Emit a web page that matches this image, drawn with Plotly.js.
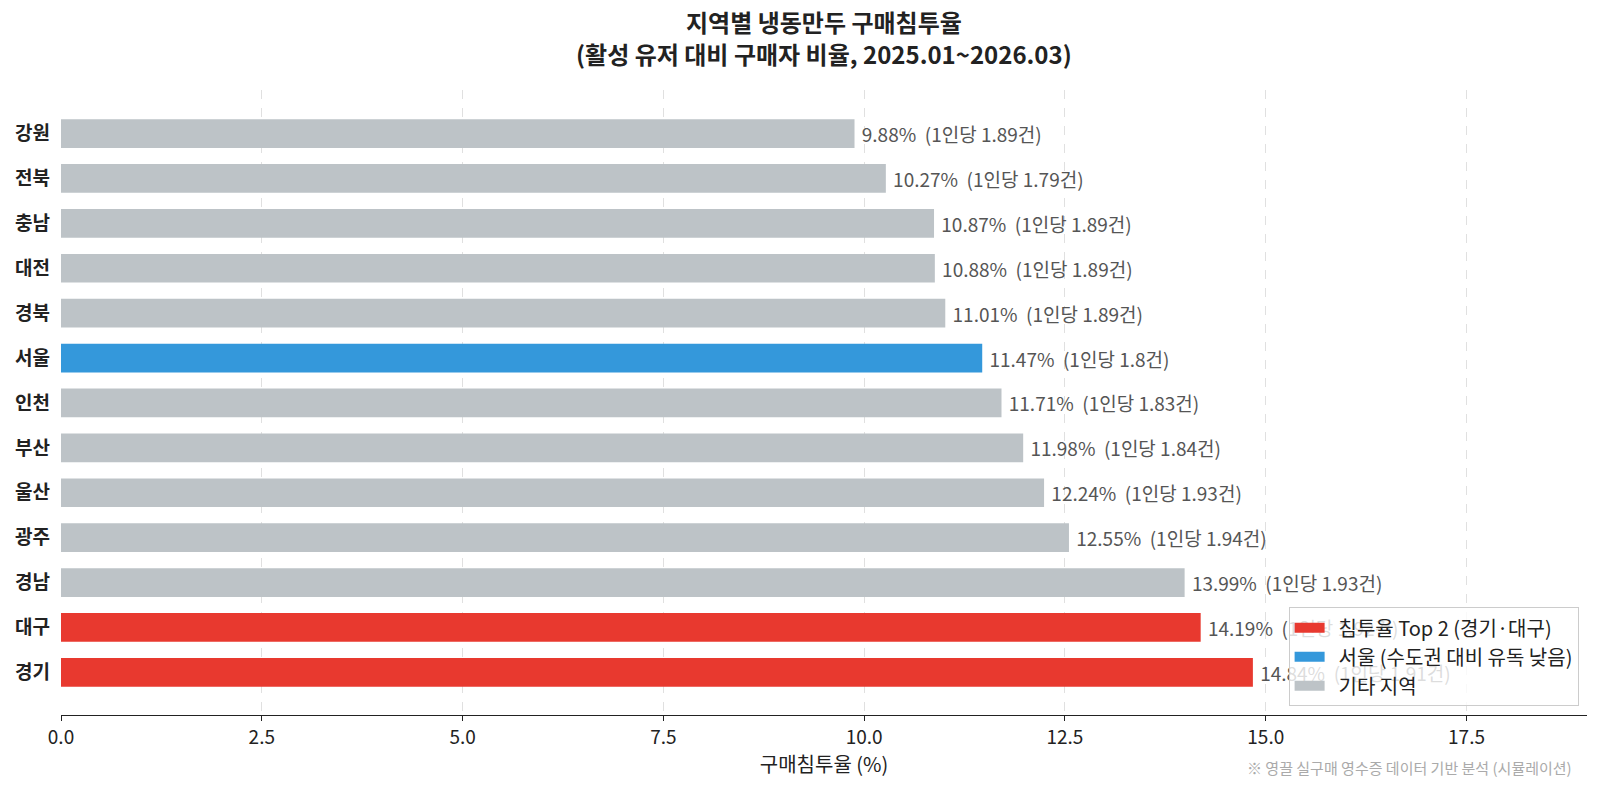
<!DOCTYPE html>
<html>
<head>
<meta charset="utf-8">
<script src="https://cdn.plot.ly/plotly-3.0.1.min.js"></script>
<style>
  html, body { margin: 0; padding: 0; background: #fff; }
  #chart { width: 1600px; height: 791px; }
</style>
</head>
<body>
<div id="chart"></div>
<script>
// regions, bottom to top as drawn
var regions = ['경기', '대구', '경남', '광주', '울산', '부산', '인천', '서울', '경북', '대전', '충남', '전북', '강원'];
var rates = [14.84, 14.19, 13.99, 12.55, 12.24, 11.98, 11.71, 11.47, 11.01, 10.88, 10.87, 10.27, 9.88];
var perUser = ['1.91', '1.92', '1.93', '1.94', '1.93', '1.84', '1.83', '1.8', '1.89', '1.89', '1.89', '1.79', '1.89'];
var groups = ['top', 'top', 'etc', 'etc', 'etc', 'etc', 'etc', 'seoul', 'etc', 'etc', 'etc', 'etc', 'etc'];

var groupOrder = ['top', 'seoul', 'etc'];
var groupNames = {top: '침투율 Top 2 (경기·대구)', seoul: '서울 (수도권 대비 유독 낮음)', etc: '기타 지역'};
var groupColors = {top: '#E8392F', seoul: '#3498DB', etc: '#BDC3C7'};

var font = '"Noto Sans CJK KR", "Noto Sans", sans-serif';

var traces = [];
groupOrder.forEach(function (g) {
  var x = [], y = [], t = [];
  regions.forEach(function (r, i) {
    if (groups[i] != g) return;
    x.push(rates[i]);
    y.push(r);
    t.push('\u00a0' + rates[i].toFixed(2) + '%\u00a0 (1인당 ' + perUser[i] + '건)');
  });
  traces.push({
    type: 'bar',
    orientation: 'h',
    x: x,
    y: y,
    text: t,
    textposition: 'outside',
    cliponaxis: false,
    textfont: {family: font, size: 19, color: '#555555'},
    width: 0.64,
    showlegend: false,
    marker: {color: groupColors[g]},
    hoverinfo: 'x+y'
  });
});

// legend entries drawn as thick lines so the swatches are wide boxes
groupOrder.forEach(function (g) {
  traces.push({
    type: 'scatter',
    mode: 'lines',
    x: [null],
    y: [null],
    name: '\u00a0\u00a0' + groupNames[g],
    line: {color: groupColors[g], width: 13},
    hoverinfo: 'skip'
  });
});

var layout = {
  width: 1600,
  height: 791,
  font: {family: font, color: '#222222'},
  paper_bgcolor: '#ffffff',
  plot_bgcolor: '#ffffff',
  barmode: 'overlay',
  margin: {l: 61, r: 13, t: 90, b: 76},
  xaxis: {
    range: [0, 19],
    tickvals: [0, 2.5, 5, 7.5, 10, 12.5, 15, 17.5],
    ticktext: ['0.0', '2.5', '5.0', '7.5', '10.0', '12.5', '15.0', '17.5'],
    showgrid: true,
    gridcolor: '#e0e0e0',
    griddash: 'dash',
    gridwidth: 1,
    zeroline: false,
    showline: true,
    linecolor: '#222222',
    linewidth: 1.2,
    ticks: 'outside',
    ticklen: 5,
    tickcolor: '#222222',
    tickfont: {family: font, size: 19, color: '#222222'},
    title: {text: '구매침투율 (%)', font: {family: font, size: 20, color: '#222222'}, standoff: 6}
  },
  yaxis: {
    type: 'category',
    categoryorder: 'array',
    categoryarray: regions,
    range: [-0.95, 12.97],
    showgrid: false,
    zeroline: false,
    showline: false,
    ticks: '',
    ticklabelstandoff: 10,
    tickfont: {family: font, size: 19, color: '#222222', weight: 'bold'}
  },
  showlegend: true,
  legend: {
    x: 0.9945,
    xanchor: 'right',
    y: 0.014,
    yanchor: 'bottom',
    bgcolor: 'rgba(255,255,255,0.8)',
    bordercolor: '#cccccc',
    borderwidth: 1,
    font: {family: font, size: 20, color: '#222222'},
    tracegroupgap: 0,
    itemwidth: 30
  },
  annotations: [{
    text: '<b>지역별 냉동만두 구매침투율</b>',
    xref: 'paper', yref: 'paper',
    x: 0.5, xanchor: 'center',
    y: 1.1094, yanchor: 'middle',
    showarrow: false,
    font: {family: font, size: 24, color: '#222222'}
  }, {
    text: '<b>(활성 유저 대비 구매자 비율, 2025.01~2026.03)</b>',
    xref: 'paper', yref: 'paper',
    x: 0.5, xanchor: 'center',
    y: 1.0592, yanchor: 'middle',
    showarrow: false,
    font: {family: font, size: 24, color: '#222222'}
  }, {
    text: '※ 영끌 실구매 영수증 데이터 기반 분석 (시뮬레이션)',
    xref: 'paper', yref: 'paper',
    x: 0.9915, xanchor: 'right',
    y: -0.0835, yanchor: 'middle',
    showarrow: false,
    font: {family: font, size: 15, color: '#aaaaaa'}
  }]
};

Plotly.newPlot('chart', traces, layout, {displayModeBar: false, staticPlot: true});
</script>
</body>
</html>
